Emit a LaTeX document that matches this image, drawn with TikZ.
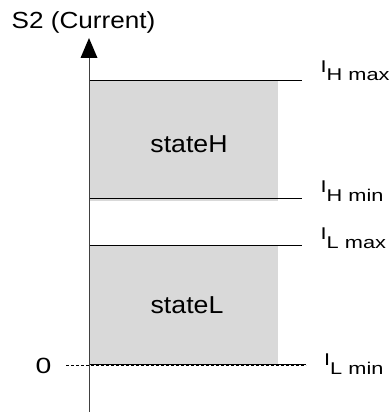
\documentclass[tikz,border=0pt]{standalone}
\usepackage{fontspec}
\setmainfont{Liberation Sans}
\tikzset{
  px/.style={x=1pt,y=-1pt},
  band/.style={fill=black!15,draw=none},
  level/.style={draw=black,line width=1pt},
  zeroline/.style={draw=black,line width=1pt,dash pattern=on 3pt off 2pt},
  axisline/.style={draw=black!75,line width=1pt},
  lbl/.style={inner sep=0pt,anchor=base west,font=\fontsize{17}{17}\selectfont},
  statelbl/.style={inner sep=0pt,anchor=base,font=\fontsize{24.5}{24.5}\selectfont},
}
\newcommand{\wide}[2]{\scalebox{#1}[1]{#2}}
\newcommand{\ilabel}[2]{\wide{1.28}{I\raisebox{-9pt}{#1 #2}}}
\begin{document}
\begin{tikzpicture}[px]
\useasboundingbox (0,0) rectangle (390,412);
% bands
\fill[band] (89,80) rectangle (278,201);
\fill[band] (89,246) rectangle (278,364);
% coordinates
\coordinate (hmaxA) at (89,80);   \coordinate (hmaxB) at (302,80);
\coordinate (hminA) at (89,198);  \coordinate (hminB) at (302,198);
\coordinate (lmaxA) at (89,245.5);\coordinate (lmaxB) at (302,245.5);
\coordinate (lminA) at (89,364.5);\coordinate (lminB) at (306,364.5);
\coordinate (zeroA) at (66,365.5);\coordinate (zeroB) at (306,365.5);
\coordinate (axB) at (89,412);    \coordinate (axT) at (89,58);
\coordinate (tip) at (89,38);     \coordinate (tl) at (80.5,58); \coordinate (tr) at (97.5,58);
% lines
\draw[level] (hmaxA) -- (hmaxB);
\draw[level] (hminA) -- (hminB);
\draw[level] (lmaxA) -- (lmaxB);
\draw[level] (lminA) -- (lminB);
\draw[zeroline] (zeroA) -- (zeroB);
% axis
\draw[axisline] (axB) -- (axT);
\fill[black] (tip) -- (tl) -- (tr) -- cycle;
% texts
\node[inner sep=0pt,anchor=base west,font=\fontsize{23.3}{23.3}\selectfont] (title) at (11.5,28.3) {\wide{1.12}{S2 (Current)}};
\node[statelbl] (stH) at (189,152) {\wide{1.09}{stateH}};
\node[statelbl] (stL) at (187,313) {\wide{1.09}{stateL}};
\node[inner sep=0pt,anchor=base,font=\fontsize{22}{22}\selectfont] (zero) at (43.5,373) {\wide{1.29}{0}};
\node[lbl] (lHmax) at (320.5,72) {\ilabel{H}{max}};
\node[lbl] (lHmin) at (320.5,192.7) {\ilabel{H}{min}};
\node[lbl] (lLmax) at (320.5,239) {\ilabel{L}{max}};
\node[lbl] (lLmin) at (324,365) {\ilabel{L}{min}};
\end{tikzpicture}
\end{document}
